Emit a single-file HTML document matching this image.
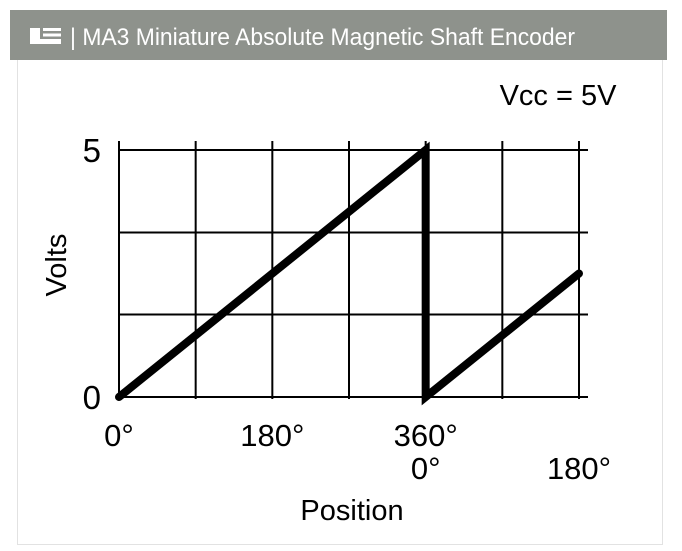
<!DOCTYPE html>
<html><head><meta charset="utf-8"><style>
body{margin:0;width:682px;height:551px;background:#fff;overflow:hidden;font-family:"Liberation Sans",sans-serif}
#hdr{position:absolute;left:10px;top:10px;width:657px;height:50px;background:#8e928c}
#panel{position:absolute;left:17px;top:60px;width:646px;height:485px;border:1px solid #e2e2e2;border-top:none;box-sizing:border-box}
</style></head><body>
<div id="hdr">
<svg width="657" height="50" style="position:absolute;left:0;top:0">
<g fill="#fff">
<rect x="20" y="18" width="10" height="11"/><rect x="20" y="29" width="31" height="5"/>
<rect x="33" y="18" width="18" height="3"/><rect x="33" y="23.5" width="18" height="3"/>
</g>
<text x="60" y="35" fill="#fff" font-size="24" textLength="505" lengthAdjust="spacingAndGlyphs">| MA3 Miniature Absolute Magnetic Shaft Encoder</text>
</svg></div>
<div id="panel"></div>
<svg id="chart" width="682" height="551" style="position:absolute;left:0;top:0"></svg>
<script>
const xGrid=[0,90,180,270,360,450,540];
const yGrid=[0,1.67,3.33,5];
const seriesX=[0,360,360,540];
const seriesY=[0,5,0,2.5];
const yTicks=[0,5];
const xTicksRow1=[[0,"0°"],[180,"180°"],[360,"360°"]];
const xTicksRow2=[[360,"0°"],[540,"180°"]];
const X=d=>119+d*(460/540);
const Y=v=>397-v*(247/5);
const svg=document.getElementById('chart');
const NS='http://www.w3.org/2000/svg';
function mk(t,a){const e=document.createElementNS(NS,t);for(const k in a)e.setAttribute(k,a[k]);svg.appendChild(e);return e;}
xGrid.forEach(d=>{const l=mk('line',{x1:X(d),x2:X(d),y1:141,y2:399,stroke:'#000','stroke-width':2});

});
yGrid.forEach(v=>{const l=mk('line',{x1:119,x2:588,y1:Y(v),y2:Y(v),stroke:'#000','stroke-width':2});

});
let pts=seriesX.map((d,i)=>X(d)+','+Y(seriesY[i])).join(' ');
const pl=mk('polyline',{points:pts,fill:'none',stroke:'#000','stroke-width':8,'stroke-linecap':'round','stroke-linejoin':'miter'});


yTicks.forEach(v=>{const t=mk('text',{x:101,y:Y(v)+12,'font-size':33,'text-anchor':'end'});t.textContent=v;

});
xTicksRow1.forEach(([d,s])=>{const t=mk('text',{x:X(d),y:446,'font-size':31,'text-anchor':'middle'});t.textContent=s;

});
xTicksRow2.forEach(([d,s])=>{const t=mk('text',{x:X(d),y:479,'font-size':31,'text-anchor':'middle'});t.textContent=s;

});
const xt=mk('text',{x:352,y:520,'font-size':29,'text-anchor':'middle'});xt.textContent='Position';


const yt=mk('text',{x:0,y:0,'font-size':29,'text-anchor':'middle',transform:'translate(66,265) rotate(-90)'});yt.textContent='Volts';


const vc=mk('text',{x:558,y:105,'font-size':29,'text-anchor':'middle'});vc.textContent='Vcc = 5V';


</script>
</body></html>
